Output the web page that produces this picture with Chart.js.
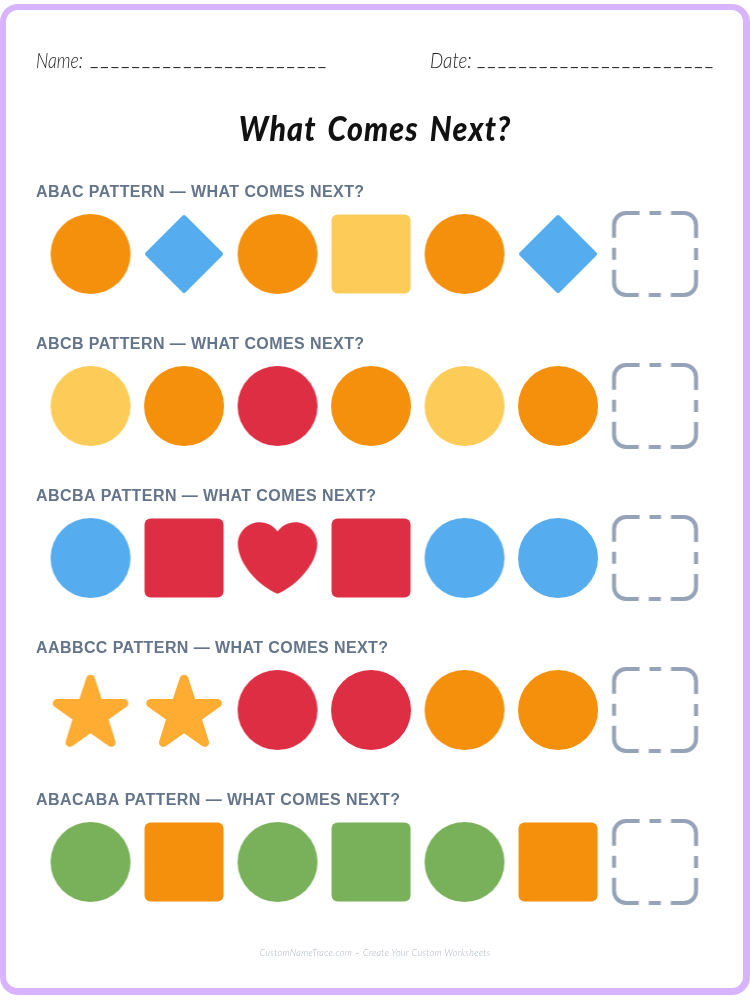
<!DOCTYPE html>
<html>
<head>
<meta charset="utf-8">
<title>What Comes Next?</title>
<script src="https://cdn.jsdelivr.net/npm/chart.js@4"></script>
<style>
  html, body { margin: 0; padding: 0; background: #fff; }
  #page { position: relative; width: 750px; height: 1000px; overflow: hidden; }
  #frame { position: absolute; left: 0; top: 4px; width: 750px; height: 991px; box-sizing: border-box;
           border: solid #D8B4FE; border-width: 6px 7px 7px 6px; border-radius: 18px; }
  #sheet { position: absolute; left: 0; top: 0; }
  .hand { position: absolute; white-space: pre; font-family: "Lato", sans-serif; font-style: italic; color: #222; }
  .label { top: 46px; font-size: 22px; font-weight: 300; transform-origin: left top; }
  .rule { top: 48px; font-size: 18.2px; font-weight: 400; letter-spacing: 2px; font-style: normal; }
  #nameField { left: 36px; transform: scaleX(0.8); }
  #nameRule { left: 90px; }
  #dateField { left: 430px; transform: scaleX(0.85); }
  #dateRule { left: 477px; }
  #heading { left: 0; width: 750px; top: 107px; text-align: center; font-size: 34px; font-weight: 900;
             color: #111; letter-spacing: 1.2px; word-spacing: 4px; transform: scaleX(0.895); }
  #footer { left: 0; width: 750px; top: 946px; text-align: center; font-size: 10.5px; font-weight: 300;
            color: #A8B0BC; letter-spacing: 0.35px; transform: scaleX(0.865); }
</style>
</head>
<body>
<div id="page">
  <div id="frame"></div>
  <canvas id="sheet" width="750" height="1000"></canvas>
  <div class="hand label" id="nameField"></div>
  <div class="hand rule" id="nameRule"></div>
  <div class="hand label" id="dateField"></div>
  <div class="hand rule" id="dateRule"></div>
  <div class="hand" id="heading"></div>
  <div class="hand" id="footer"></div>
</div>
<script>
var nameText = "Name:";
var dateText = "Date:";
var ruleText = "_______________________";
var headingText = "What Comes Next?";
var footerText = "CustomNameTrace.com \u2013 Create Your Custom Worksheets";

var rowTitles = [
  "ABAC PATTERN \u2014 WHAT COMES NEXT?",
  "ABCB PATTERN \u2014 WHAT COMES NEXT?",
  "ABCBA PATTERN \u2014 WHAT COMES NEXT?",
  "AABBCC PATTERN \u2014 WHAT COMES NEXT?",
  "ABACABA PATTERN \u2014 WHAT COMES NEXT?"
];
var row1 = ["circle:orange", "diamond:blue", "circle:orange", "square:yellow", "circle:orange", "diamond:blue", "slot:grey"];
var row2 = ["circle:yellow", "circle:orange", "circle:red", "circle:orange", "circle:yellow", "circle:orange", "slot:grey"];
var row3 = ["circle:blue", "square:red", "heart:red", "square:red", "circle:blue", "circle:blue", "slot:grey"];
var row4 = ["star:amber", "star:amber", "circle:red", "circle:red", "circle:orange", "circle:orange", "slot:grey"];
var row5 = ["circle:green", "square:orange", "circle:green", "square:green", "circle:green", "square:orange", "slot:grey"];
var rows = [row1, row2, row3, row4, row5];

var palette = {
  orange: "#F4900C", blue: "#55ACEE", yellow: "#FDCB58", red: "#DD2E44",
  green: "#78B159", amber: "#FFAC33", grey: "#94A3B8"
};

var heartPath = "M35.885 11.833c0-5.45-4.418-9.868-9.867-9.868-3.308 0-6.227 1.633-8.018 4.129-1.791-2.496-4.71-4.129-8.017-4.129-5.45 0-9.868 4.417-9.868 9.868 0 .772.098 1.52.266 2.241C1.751 22.587 11.216 31.568 18 34.034c6.783-2.466 16.249-11.447 17.617-19.959.17-.721.268-1.469.268-2.242z";
var starPath = "M27.287 34.627c-.404 0-.806-.124-1.152-.371L18 28.422l-8.135 5.834c-.693.496-1.623.496-2.312-.008-.689-.499-.979-1.385-.721-2.194l3.034-9.792-8.062-5.681c-.685-.505-.97-1.393-.708-2.203.264-.808 1.016-1.357 1.866-1.363L12.947 13l3.179-9.549c.268-.809 1.023-1.353 1.874-1.353.851 0 1.606.545 1.875 1.353L23 13l10.036.015c.853.006 1.606.556 1.867 1.363.263.81-.022 1.698-.708 2.203l-8.062 5.681 3.034 9.792c.26.809-.033 1.695-.72 2.194-.347.254-.753.379-1.16.379z";

var iconCache = {};

// every mark is a small canvas handed to Chart.js as a pointStyle
function makeIcon(key) {
  if (iconCache[key]) return iconCache[key];
  var parts = key.split(":");
  var shape = parts[0];
  var color = palette[parts[1]];
  var c = document.createElement("canvas");
  c.width = 100;
  c.height = 100;
  var ctx = c.getContext("2d");
  ctx.translate(50, 50);
  ctx.fillStyle = color;

  if (shape == "circle") {
    ctx.beginPath();
    ctx.arc(0, 0, 40, 0, Math.PI * 2);
    ctx.fill();
  } else if (shape == "square") {
    ctx.beginPath();
    ctx.roundRect(-39.5, -39.5, 79, 79, 6);
    ctx.fill();
  } else if (shape == "diamond") {
    ctx.strokeStyle = color;
    ctx.lineWidth = 4;
    ctx.lineJoin = "round";
    ctx.beginPath();
    ctx.moveTo(0, -37);
    ctx.lineTo(37, 0);
    ctx.lineTo(0, 37);
    ctx.lineTo(-37, 0);
    ctx.closePath();
    ctx.fill();
    ctx.stroke();
  } else if (shape == "heart" || shape == "star") {
    ctx.scale(80 / 36, 80 / 36);
    ctx.translate(-18, -18);
    ctx.fill(new Path2D(shape == "heart" ? heartPath : starPath));
  } else if (shape == "slot") {
    // the answer box sits a little right of the column centre
    ctx.translate(3.5, 0);
    ctx.strokeStyle = color;
    ctx.lineWidth = 4;
    ctx.setLineDash([12, 10, 44.85, 10]);
    ctx.lineDashOffset = 6;
    ctx.beginPath();
    ctx.moveTo(0, -41);
    ctx.arcTo(41, -41, 41, 41, 12);
    ctx.arcTo(41, 41, -41, 41, 12);
    ctx.arcTo(-41, 41, -41, -41, 12);
    ctx.arcTo(-41, -41, 41, -41, 12);
    ctx.closePath();
    ctx.stroke();
  }
  iconCache[key] = c;
  return c;
}

document.getElementById("nameField").textContent = nameText;
document.getElementById("nameRule").textContent = ruleText;
document.getElementById("dateField").textContent = dateText;
document.getElementById("dateRule").textContent = ruleText;
document.getElementById("heading").textContent = headingText;
document.getElementById("footer").textContent = footerText;

var datasets = [];
for (var r = 0; r < rows.length; r++) {
  var points = [];
  var styles = [];
  for (var k = 0; k < rows[r].length; k++) {
    points.push({ x: k, y: r });
    styles.push(makeIcon(rows[r][k]));
  }
  datasets.push({ label: rowTitles[r], data: points, pointStyle: styles, pointRadius: 40, showLine: false, clip: false });
}

var rowTitlePlugin = {
  id: "rowTitles",
  afterDatasetsDraw: function (chart) {
    var ctx = chart.ctx;
    ctx.save();
    ctx.fillStyle = "#64748B";
    ctx.font = "bold 16px 'Liberation Sans'";
    ctx.letterSpacing = "0.42px";
    ctx.textBaseline = "alphabetic";
    for (var i = 0; i < rowTitles.length; i++) {
      ctx.fillText(rowTitles[i], 36, chart.scales.y.getPixelForValue(i) - 57);
    }
    ctx.restore();
  }
};

new Chart(document.getElementById("sheet"), {
  type: "scatter",
  data: { datasets: datasets },
  plugins: [rowTitlePlugin],
  options: {
    responsive: false,
    animation: false,
    events: [],
    layout: { padding: 0, autoPadding: false },
    plugins: { legend: { display: false }, title: { display: false }, tooltip: { enabled: false } },
    scales: {
      // one column is about 93.5px wide and one row 152px tall
      x: { display: false, min: -0.968, max: 7.053 },
      y: { display: false, reverse: true, min: -1.671, max: 4.908 }
    }
  }
});
</script>
</body>
</html>
